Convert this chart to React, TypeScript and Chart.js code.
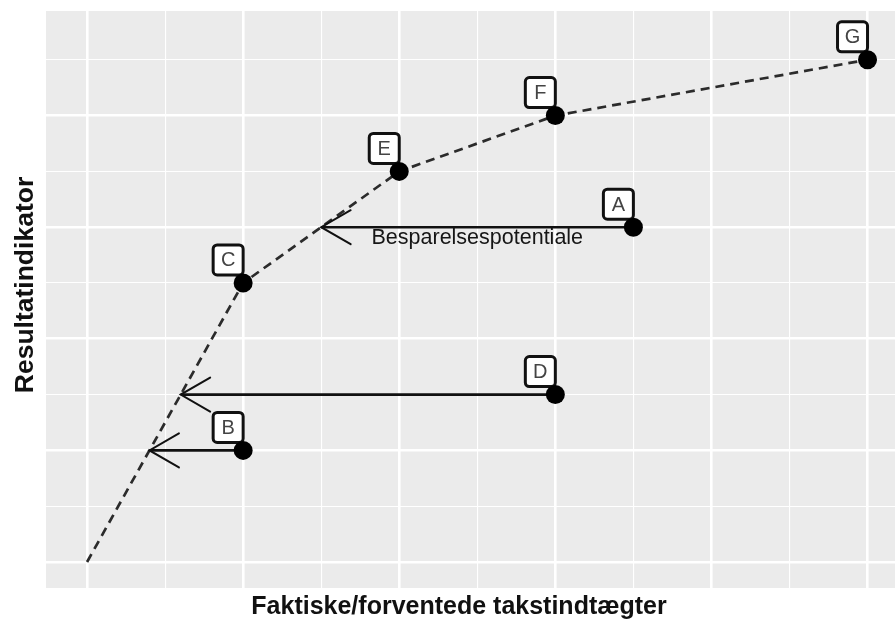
import React, { useEffect, useRef } from "react";
import { Chart, registerables } from "chart.js";

Chart.register(...registerables);

// Efficient frontier (piecewise linear)
const frontierX = [0, 1, 2, 3, 5];
const frontierY = [0, 2.5, 3.5, 4, 4.5];

// Units
const unitNames = ["A", "B", "C", "D", "E", "F", "G"];
const unitX = [3.5, 1, 1, 3, 2, 3, 5];
const unitY = [3, 1, 2.5, 1.5, 3.5, 4, 4.5];

// Savings arrows: from unit to frontier x at same y
const arrowUnits = ["A", "D", "B"];
const arrowTargetX = [1.5, 0.6, 0.4];

// Annotation
const annotationText = "Besparelsespotentiale";
const annotationX = 2.5;
const annotationY = 2.9;

const xTitle = "Faktiske/forventede takstindtægter";
const yTitle = "Resultatindikator";

const FONT = "'Liberation Sans', Arial, sans-serif";

export default function App() {
  const ref = useRef<HTMLCanvasElement>(null);

  useEffect(() => {
    const canvas = ref.current;
    if (!canvas) return;

    const decor = {
      id: "decor",
      beforeDraw(chart: any) {
        const { ctx, chartArea: a } = chart;
        ctx.save();
        ctx.fillStyle = "#ffffff";
        ctx.fillRect(0, 0, chart.width, chart.height);
        ctx.fillStyle = "#EBEBEB";
        ctx.fillRect(a.left, a.top, a.right - a.left, a.bottom - a.top);
        ctx.restore();
      },
      afterDatasetDraw(chart: any, args: any) {
        if (args.index !== 1) return;
        const { ctx } = chart;
        const xs = chart.scales.x;
        const ys = chart.scales.y;
        ctx.save();
        // arrows
        arrowUnits.forEach((name, i) => {
          const k = unitNames.indexOf(name);
          const x0 = xs.getPixelForValue(unitX[k]);
          const y0 = ys.getPixelForValue(unitY[k]);
          const x1 = xs.getPixelForValue(arrowTargetX[i]);
          ctx.strokeStyle = "#111";
          ctx.lineWidth = 2.6;
          ctx.lineCap = "butt";
          ctx.beginPath();
          ctx.moveTo(x0, y0);
          ctx.lineTo(x1, y0);
          ctx.stroke();
          const len = 34;
          const ang = (30 * Math.PI) / 180;
          ctx.lineWidth = 2;
          ctx.lineCap = "round";
          ctx.beginPath();
          ctx.moveTo(x1 + len * Math.cos(ang), y0 - len * Math.sin(ang));
          ctx.lineTo(x1, y0);
          ctx.lineTo(x1 + len * Math.cos(ang), y0 + len * Math.sin(ang));
          ctx.stroke();
        });
        // annotation text
        ctx.fillStyle = "#161616";
        ctx.font = `21.5px ${FONT}`;
        ctx.textAlign = "center";
        ctx.textBaseline = "middle";
        ctx.fillText(
          annotationText,
          xs.getPixelForValue(annotationX),
          ys.getPixelForValue(annotationY)
        );
        // label boxes
        unitNames.forEach((name, k) => {
          const px = xs.getPixelForValue(unitX[k]);
          const py = ys.getPixelForValue(unitY[k]);
          const cx = px - 15;
          const cy = py - 23;
          const w = 30;
          const h = 30;
          ctx.beginPath();
          (ctx as any).roundRect(cx - w / 2, cy - h / 2, w, h, 4);
          ctx.fillStyle = "#ffffff";
          ctx.fill();
          ctx.lineWidth = 3;
          ctx.strokeStyle = "#111";
          ctx.stroke();
          ctx.fillStyle = "#444";
          ctx.font = `20px ${FONT}`;
          ctx.textAlign = "center";
          ctx.textBaseline = "middle";
          ctx.fillText(name, cx, cy + 1);
        });
        ctx.restore();
      },
      afterDraw(chart: any) {
        const { ctx } = chart;
        ctx.save();
        ctx.fillStyle = "#111";
        ctx.font = `bold 25px ${FONT}`;
        ctx.textAlign = "center";
        ctx.textBaseline = "alphabetic";
        ctx.fillText(xTitle, 459, 614);
        ctx.font = `bold 26.5px ${FONT}`;
        ctx.translate(33, 285);
        ctx.rotate(-Math.PI / 2);
        ctx.fillText(yTitle, 0, 0);
        ctx.restore();
      },
    };

    const gridWidth = (c: any) =>
      c.tick && Number.isInteger(Math.round(c.tick.value * 1000) / 1000) ? 2.6 : 1.1;

    const chart = new Chart(canvas, {
      type: "scatter",
      data: {
        datasets: [
          {
            label: "Enheder",
            data: unitX.map((x, i) => ({ x, y: unitY[i] })),
            backgroundColor: "#000",
            borderColor: "#000",
            pointRadius: 9.5,
            pointHoverRadius: 9.5,
            borderWidth: 0,
          },
          {
            type: "line",
            label: "Front",
            data: frontierX.map((x, i) => ({ x, y: frontierY[i] })),
            borderColor: "#2b2b2b",
            borderWidth: 2.7,
            borderDash: [9, 6],
            pointRadius: 0,
            fill: false,
            tension: 0,
            showLine: true,
          } as any,
        ],
      },
      options: {
        responsive: false,
        animation: false,
        events: [],
        layout: { autoPadding: false, padding: { left: 46, top: 11, right: 0, bottom: 33 } },
        plugins: {
          legend: { display: false },
          tooltip: { enabled: false },
          title: { display: false },
        },
        scales: {
          x: {
            type: "linear",
            min: -0.263,
            max: 5.176,
            border: { display: false },
            grid: { color: "#ffffff", lineWidth: gridWidth, drawTicks: false },
            ticks: { display: false, stepSize: 0.5, includeBounds: false },
            title: { display: false },
          },
          y: {
            type: "linear",
            min: -0.233,
            max: 4.937,
            border: { display: false },
            grid: { color: "#ffffff", lineWidth: gridWidth, drawTicks: false },
            ticks: { display: false, stepSize: 0.5, includeBounds: false },
            title: { display: false },
          },
        },
      },
      plugins: [decor],
    });

    return () => chart.destroy();
  }, []);

  return (
    <div style={{ position: "absolute", left: 0, top: 0, width: 895, height: 621 }}>
      <canvas ref={ref} width={895} height={621} style={{ width: 895, height: 621, display: "block" }} />
    </div>
  );
}
